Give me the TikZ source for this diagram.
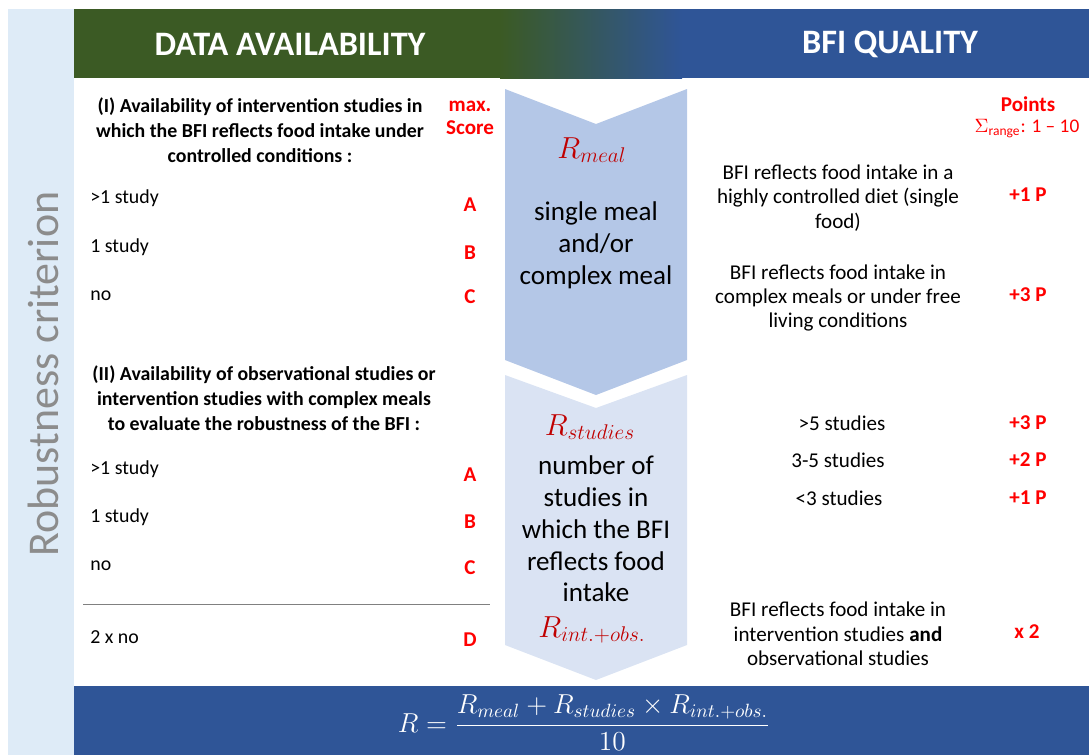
\RequirePackage{fix-cm}
\documentclass[tikz,border=0pt]{standalone}
\usepackage{amsmath}
\usepackage{fontspec}
\setmainfont{Carlito}
\usetikzlibrary{positioning}
\definecolor{bandblue}{HTML}{DEEBF7}
\definecolor{headgreen}{HTML}{3B5A24}
\definecolor{headblue}{HTML}{2F5597}
\definecolor{chevdark}{HTML}{B4C7E7}
\definecolor{chevlight}{HTML}{DAE3F3}
\definecolor{mathred}{HTML}{C00000}
\definecolor{scorered}{HTML}{FF0000}
\begin{document}
\begin{tikzpicture}[x=0.02cm, y=-0.02cm,
  every node/.style={inner sep=0pt},
  head/.style={text=white, font=\fontsize{19.5}{23}\bfseries\selectfont},
  quest/.style={align=center, font=\fontsize{11.3}{14.2}\bfseries\selectfont},
  answer/.style={anchor=west, font=\fontsize{11.3}{13}\selectfont},
  score/.style={text=scorered, font=\fontsize{12}{13.5}\bfseries\selectfont},
  midtext/.style={align=center, font=\fontsize{15.4}{18.1}\selectfont},
  rtext/.style={align=center, font=\fontsize{12}{13.9}\selectfont},
  rsym/.style={text=mathred, font=\fontsize{17.3}{19}\selectfont}]
\useasboundingbox (0,0) rectangle (1089,755);

% side band and header bar
\fill[bandblue] (8,9) rectangle (74,755);
\node[rotate=90, text=black!45, font=\fontsize{25}{30}\selectfont] (crit) at (43,374) {Robustness criterion};
\fill[headgreen] (74,9) rectangle (500,78);
\shade[left color=headgreen, right color=headblue] (500,9) rectangle (682,78);
\fill[headblue] (682,9) rectangle (1089,78);
\node[head] (avail) at (290,44) {DATA AVAILABILITY};
\node[head] (quality) at (890,44) {BFI QUALITY};

% the two chevrons in the middle
\fill[chevdark] (505,89) -- (596,124) -- (687,89) -- (687,360) -- (596,395) -- (505,360) -- cycle;
\fill[chevlight] (505,375) -- (596,408) -- (687,375) -- (687,645) -- (596,680) -- (505,645) -- cycle;

% bottom bar with the formula
\fill[headblue] (74,686) rectangle (1089,755);
\node[anchor=base, text=white, font=\fontsize{15.6}{18}\selectfont] (formula) at (584,732)
  {$R=\dfrac{R_{meal}+R_{studies}\times R_{int.+obs.}}{10}$};

% left column: data availability
\node[quest] (q1) at (260,130) {(I) Availability of intervention studies in\\which the BFI reflects food intake under\\controlled conditions :};
\node[score, align=center, font=\fontsize{12}{13}\bfseries\selectfont] (max) at (470,118) {max.\\Score};
\node[answer] (a1) at (90,198) {>1 study};
\node[answer] (a2) at (90,247) {1 study};
\node[answer] (a3) at (90,296) {no};
\node[score] (s1) at (470,205) {A};
\node[score] (s2) at (470,253) {B};
\node[score] (s3) at (470,297) {C};

\node[quest] (q2) at (264,398) {(II) Availability of observational studies or\\intervention studies with complex meals\\to evaluate the robustness of the BFI :};
\node[answer] (b1) at (90,469) {>1 study};
\node[answer] (b2) at (90,517) {1 study};
\node[answer] (b3) at (90,566) {no};
\node[score] (t1) at (470,475) {A};
\node[score] (t2) at (470,522) {B};
\node[score] (t3) at (470,568) {C};
\draw[black!50] (83,604) -- (490,604);
\node[answer] (b4) at (90,637) {2 x no};
\node[score] (t4) at (470,640) {D};

% middle: the R terms
\node[rsym] (rmeal) at (592,150) {$R_{meal}$};
\node[midtext] (meal) at (596,245) {single meal\\and/or\\complex meal};
\node[rsym] (rstud) at (590,427) {$R_{studies}$};
\node[midtext] (nstud) at (596,529) {number of\\studies in\\which the BFI\\reflects food\\intake};
\node[rsym] (rint) at (592,630) {$R_{int.+obs.}$};

% right column: BFI quality
\node[score] (pts) at (1028,104) {Points};
\node[text=scorered, font=\fontsize{11}{13}\selectfont] (range) at (1027,129) {$\Sigma_{\text{range}}$: 1 -- 10};
\node[rtext] (c1) at (838,198) {BFI reflects food intake in a\\highly controlled diet (single\\food)};
\node[score] (p1) at (1028,195) {+1 P};
\node[rtext] (c2) at (838,298) {BFI reflects food intake in\\complex meals or under free\\living conditions};
\node[score] (p2) at (1028,295) {+3 P};
\node[rtext] (n1) at (842,423) {>5 studies};
\node[score] (p3) at (1028,423) {+3 P};
\node[rtext] (n2) at (838,460) {3-5 studies};
\node[score] (p4) at (1028,460) {+2 P};
\node[rtext] (n3) at (839,498) {<3 studies};
\node[score] (p5) at (1028,498) {+1 P};
\node[rtext] (c3) at (838,634) {BFI reflects food intake in\\intervention studies \textbf{and}\\observational studies};
\node[score] (p6) at (1027,632) {x 2};
\end{tikzpicture}
\end{document}
